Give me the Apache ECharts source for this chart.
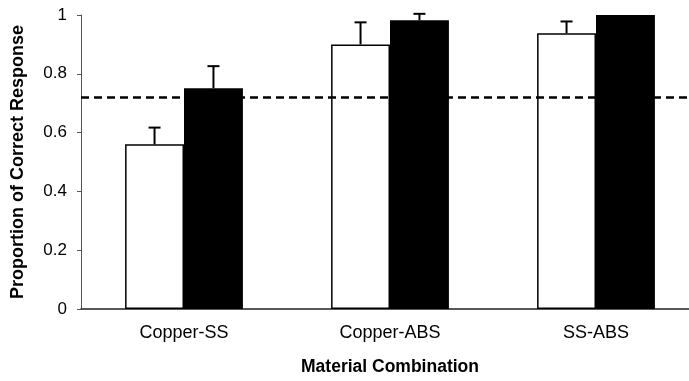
<!DOCTYPE html>
<html>
<head>
<meta charset="utf-8">
<script src="https://cdn.jsdelivr.net/npm/echarts@6/dist/echarts.min.js"></script>
<style>
  html, body { margin: 0; padding: 0; background: #fff; overflow: hidden; width: 689px; height: 381px; }
  /* the plot area runs past the right edge of the page, so the canvas is a bit wider than the window */
  #chart { width: 699px; height: 381px; }
</style>
</head>
<body>
<div id="chart"></div>
<script>
// Material pairs compared
const categories = ['Copper-SS', 'Copper-ABS', 'SS-ABS'];
// Mean proportion correct for the two conditions (open and filled bars)
const openMeans = [0.56, 0.90, 0.938];
const filledMeans = [0.751, 0.982, 1.0];
// Upper error bar extent (standard error) for each bar
const openErr = [0.057, 0.075, 0.04];
const filledErr = [0.075, 0.022, 0];
// Reference criterion level drawn as a dashed line
const criterion = 0.717;
// Value axis ticks
const yTicks = [0, 0.2, 0.4, 0.6, 0.8, 1];

const FONT = '"Liberation Sans", Arial, Helvetica, sans-serif';
const BAR_FRAC = 0.286; // bar width as fraction of category band

function errorSeries(means, errs, side) {
  return {
    type: 'custom',
    z: 5,
    silent: true,
    data: means.map((m, i) => [i, m, m + errs[i]]),
    renderItem: function (params, api) {
      const band = api.size([1, 0])[0];
      const dx = side * band * BAR_FRAC / 2;
      const base = api.coord([api.value(0), api.value(1)]);
      const top = api.coord([api.value(0), api.value(2)]);
      const x = base[0] + dx;
      if (Math.abs(base[1] - top[1]) < 0.5) return null;
      const style = { stroke: '#000', lineWidth: 2 };
      return {
        type: 'group',
        children: [
          { type: 'line', shape: { x1: x, y1: base[1], x2: x, y2: top[1] }, style: style },
          { type: 'line', shape: { x1: x - 6, y1: top[1], x2: x + 6, y2: top[1] }, style: style }
        ]
      };
    }
  };
}

const chart = echarts.init(document.getElementById('chart'), null, { renderer: 'canvas' });
chart.setOption({
  animation: false,
  backgroundColor: '#fff',
  grid: { left: 81, top: 15, width: 618, height: 298, containLabel: false },
  xAxis: {
    type: 'category',
    data: categories,
    name: 'Material Combination',
    nameLocation: 'middle',
    nameGap: 49,
    nameTextStyle: { fontFamily: FONT, fontWeight: 'bold', fontSize: 17.5, color: '#000' },
    axisLine: { lineStyle: { color: '#222', width: 1.5 } },
    axisTick: { show: false },
    axisLabel: { fontFamily: FONT, fontSize: 18, color: '#000', margin: 15 }
  },
  yAxis: {
    type: 'value',
    min: 0,
    max: 1,
    interval: 0.2,
    name: 'Proportion of Correct Response',
    nameLocation: 'middle',
    nameRotate: 90,
    nameGap: 54,
    nameTextStyle: { fontFamily: FONT, fontWeight: 'bold', fontSize: 18, color: '#000' },
    axisLine: { show: true, lineStyle: { color: '#555', width: 1 } },
    axisTick: { show: true, length: 4, lineStyle: { color: '#555', width: 1 } },
    splitLine: { show: false },
    axisLabel: {
      fontFamily: FONT, fontSize: 17, color: '#000', margin: 14,
      formatter: v => yTicks.indexOf(Math.round(v * 10) / 10) >= 0 ? String(Math.round(v * 10) / 10) : ''
    }
  },
  series: [
    {
      type: 'bar',
      data: openMeans,
      barWidth: (BAR_FRAC * 100) + '%',
      barGap: '0%',
      itemStyle: { color: '#fff', borderColor: '#000', borderWidth: 1.5 },
      z: 2
    },
    {
      type: 'bar',
      data: filledMeans,
      barWidth: (BAR_FRAC * 100) + '%',
      barGap: '0%',
      itemStyle: { color: '#000', borderColor: '#000', borderWidth: 0 },
      z: 2,
      markLine: {
        silent: true,
        symbol: 'none',
        label: { show: false },
        z: 3,
        lineStyle: { color: '#000', type: [8, 5], width: 2.5 },
        data: [{ yAxis: criterion }]
      }
    },
    errorSeries(openMeans, openErr, -1),
    errorSeries(filledMeans, filledErr, 1)
  ]
});
</script>
</body>
</html>
